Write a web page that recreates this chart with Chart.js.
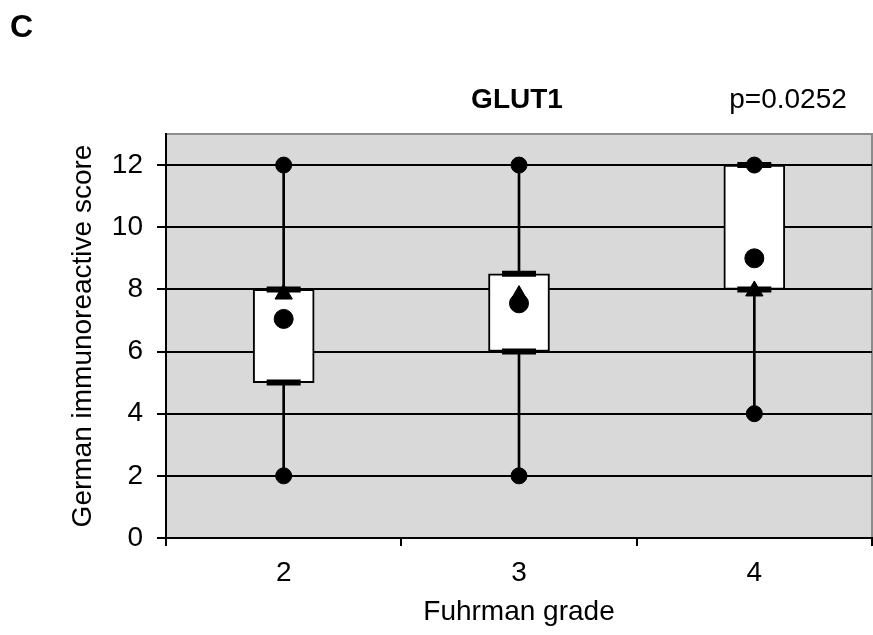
<!DOCTYPE html>
<html>
<head>
<meta charset="UTF-8">
<title>GLUT1</title>
<style>
  body { margin: 0; background: #fff; }
  #wrap { position: relative; width: 873px; height: 635px; }
</style>
</head>
<body>
<div id="wrap">
  <canvas id="glut"></canvas>
</div>

<script src="https://cdn.jsdelivr.net/npm/chart.js@4.4.1/dist/chart.umd.min.js"></script>

<script>
  var grades = ['2', '3', '4'];
  var minVals = [2, 2, 4];
  var q1Vals = [5, 6, 8];
  var q3Vals = [8, 8.5, 12];
  var maxVals = [12, 12, 12];
  var medianVals = [7.85, 7.8, 7.95];
  var meanVals = [7.05, 7.55, 9];

  var fontFam = "'Liberation Sans', Arial, sans-serif";

  // grey plot background + thin frame, and the loose texts
  var decor = {
    id: 'decor',
    beforeDraw: function(chart) {
      var a = chart.chartArea, ctx = chart.ctx;
      ctx.save();
      ctx.fillStyle = '#d9d9d9';
      ctx.fillRect(a.left, a.top, a.right - a.left, a.bottom - a.top);
      ctx.strokeStyle = '#8c8c8c';
      ctx.lineWidth = 2;
      ctx.strokeRect(a.left, a.top, a.right - a.left, a.bottom - a.top);
      ctx.restore();
    },
    afterDraw: function(chart) {
      var ctx = chart.ctx;
      ctx.save();
      ctx.fillStyle = '#000';
      ctx.textBaseline = 'middle';
      ctx.font = 'bold 32px ' + fontFam;
      ctx.textAlign = 'left';
      ctx.fillText('C', 10, 28);
      ctx.font = 'bold 28px ' + fontFam;
      ctx.textAlign = 'center';
      ctx.fillText('GLUT1', 517, 100);
      ctx.font = '28px ' + fontFam;
      ctx.fillText('p=0.0252', 788, 100);
      ctx.restore();
    }
  };

  var ctx = document.getElementById('glut');

  var chart = new Chart(ctx, {
    type: 'bar',
    data: {
      labels: grades,
      datasets: [
        {
          label: 'whisker',
          data: grades.map(function(g, i) { return [minVals[i], maxVals[i]]; }),
          backgroundColor: '#000',
          barThickness: 2,
          grouped: false,
          order: 6
        },
        {
          label: 'box',
          data: grades.map(function(g, i) { return [q1Vals[i], q3Vals[i]]; }),
          backgroundColor: '#fff',
          borderColor: '#000',
          borderWidth: 2,
          borderSkipped: false,
          barThickness: 61,
          grouped: false,
          order: 5
        },
        {
          label: 'q1',
          type: 'line',
          data: q1Vals,
          showLine: false,
          pointStyle: 'line',
          pointRadius: 17,
          pointBorderWidth: 6,
          borderColor: '#000',
          order: 4
        },
        {
          label: 'q3',
          type: 'line',
          data: q3Vals,
          showLine: false,
          pointStyle: 'line',
          pointRadius: 17,
          pointBorderWidth: 6,
          borderColor: '#000',
          order: 4
        },
        {
          label: 'min',
          type: 'line',
          data: minVals,
          showLine: false,
          pointStyle: 'circle',
          pointRadius: 8,
          backgroundColor: '#000',
          borderColor: '#000',
          order: 3
        },
        {
          label: 'max',
          type: 'line',
          data: maxVals,
          showLine: false,
          pointStyle: 'circle',
          pointRadius: 8,
          backgroundColor: '#000',
          borderColor: '#000',
          order: 3
        },
        {
          label: 'median',
          type: 'line',
          data: medianVals,
          showLine: false,
          pointStyle: 'triangle',
          pointRadius: 10,
          backgroundColor: '#000',
          borderColor: '#000',
          order: 2
        },
        {
          label: 'mean',
          type: 'line',
          data: meanVals,
          showLine: false,
          pointStyle: 'circle',
          pointRadius: 9.5,
          backgroundColor: '#000',
          borderColor: '#000',
          order: 1
        }
      ]
    },
    options: {
      responsive: true,
      maintainAspectRatio: false,
      animation: false,
      layout: { autoPadding: false, padding: { left: 0, right: 1, top: 134, bottom: 0 } },
      plugins: {
        legend: { display: false },
        tooltip: { enabled: false }
      },
      scales: {
        x: {
          offset: true,
          grid: {
            offset: true,
            drawOnChartArea: false,
            color: '#000',
            lineWidth: 2,
            tickLength: 8
          },
          border: { color: '#000', width: 2 },
          ticks: {
            color: '#000',
            font: { family: fontFam, size: 28 },
            padding: 10
          },
          title: {
            display: true,
            text: 'Fuhrman grade',
            color: '#000',
            font: { family: fontFam, size: 28 },
            padding: { top: 2, bottom: 6 }
          },
          afterFit: function(s) { s.height = 97; }
        },
        y: {
          min: 0,
          max: 13,
          ticks: {
            stepSize: 2,
            includeBounds: false,
            color: '#000',
            font: { family: fontFam, size: 28 },
            padding: 14
          },
          grid: {
            color: '#000',
            lineWidth: 2,
            tickLength: 9
          },
          border: { color: '#000', width: 2 },
          title: {
            display: true,
            text: 'German immunoreactive score',
            color: '#000',
            font: { family: fontFam, size: 28 },
            padding: { top: 66, bottom: 0 }
          },
          afterFit: function(s) { s.width = 166; }
        }
      }
    },
    plugins: [decor]
  });
</script>
</body>
</html>
